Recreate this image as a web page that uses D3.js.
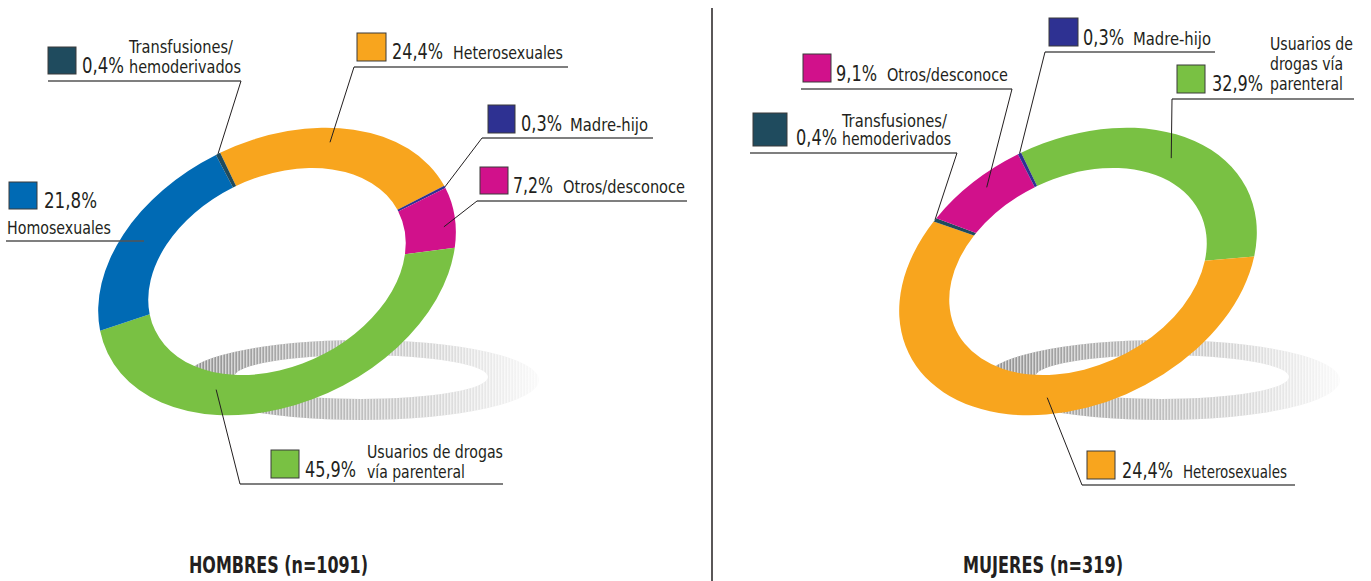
<!DOCTYPE html>
<html>
<head>
<meta charset="utf-8">
<script src="https://cdn.jsdelivr.net/npm/d3@7"></script>
<style>
  body { margin: 0; background: #fff; }
  svg text { font-family: "DejaVu Sans Condensed", "DejaVu Sans", sans-serif; font-stretch: condensed; fill: #231f20; }
</style>
</head>
<body>
<div id="chart"></div>
<script>
// categorías y colores
const categorias = ["Heterosexuales", "Madre-hijo", "Otros/desconoce", "UDVP", "Homosexuales", "Transfusiones"];
const colores = ["#f8a51e", "#2e3192", "#d1118b", "#79c143", "#006ab4", "#1f4b5e"];

// Hombres, en el orden del anillo (empieza arriba, sentido horario)
const hombresCat = ["Heterosexuales", "Madre-hijo", "Otros/desconoce", "UDVP", "Homosexuales", "Transfusiones"];
const hombresVal = [24.4, 0.3, 7.2, 45.9, 21.8, 0.4];
const hombresPct = ["24,4%", "0,3%", "7,2%", "45,9%", "21,8%", "0,4%"];

// Mujeres: el arco naranja ocupa el resto del anillo aunque la etiqueta impresa dice 24,4%
const mujeresCat = ["UDVP", "Heterosexuales", "Transfusiones", "Otros/desconoce", "Madre-hijo"];
const mujeresVal = [32.9, 57.3, 0.4, 9.1, 0.3];
const mujeresPct = ["32,9%", "24,4%", "0,4%", "9,1%", "0,3%"];

const titulos = ["HOMBRES (n=1091)", "MUJERES (n=319)"];

const width = 1371, height = 581;
const color = d3.scaleOrdinal().domain(categorias).range(colores);

const svg = d3.select("#chart").append("svg")
    .attr("width", width)
    .attr("height", height);

const defs = svg.append("defs");
const grad = defs.append("linearGradient").attr("id", "sombra").attr("x1", 0).attr("x2", 1);
grad.append("stop").attr("offset", 0).attr("stop-color", "#8f8f8f");
grad.append("stop").attr("offset", 0.55).attr("stop-color", "#c4c4c4");
grad.append("stop").attr("offset", 1).attr("stop-color", "#fafafa");
const pat = defs.append("pattern").attr("id", "rayas")
    .attr("patternUnits", "userSpaceOnUse").attr("width", 3).attr("height", 10);
pat.append("rect").attr("x", 0).attr("y", 0).attr("width", 1.4).attr("height", 10)
    .attr("fill", "#fff").attr("opacity", 0.6);

// geometría del anillo inclinado
const R = 188, RIN = 0.72 * R, TILT = -25.6, SQ = 0.70;
const arc = d3.arc().innerRadius(RIN).outerRadius(R);
const pie = d3.pie().sort(null).value(d => d.v);

function aPantalla(cx, cy, ang, r) {
    const ux = r * Math.sin(ang), uy = -r * Math.cos(ang) * SQ;
    const t = TILT * Math.PI / 180;
    return [cx + ux * Math.cos(t) - uy * Math.sin(t), cy + ux * Math.sin(t) + uy * Math.cos(t)];
}

function elipse(cx, cy, rx, ry) {
    return `M${cx - rx},${cy}A${rx},${ry} 0 1 0 ${cx + rx},${cy}A${rx},${ry} 0 1 0 ${cx - rx},${cy}Z`;
}

const paneles = [
    {
        cx: 277, cy: 271.5, cat: hombresCat, val: hombresVal, pct: hombresPct, titulo: titulos[0], tx: 189, tw: 179,
        etiquetas: {
            "Transfusiones": { sw: [48, 47, 28, 27], p: [82, 73, 42], lines: [["Transfusiones/", 129, 53, 104], ["hemoderivados", 129, 73, 112]], ul: [48, 241, 81], from: [241, 81], frac: 0.5, rf: 1.0 },
            "Heterosexuales": { sw: [357, 33, 29, 28], p: [392, 59, 51], lines: [["Heterosexuales", 453, 59, 110]], ul: [354, 568, 67], from: [354, 67], frac: 0.43, rf: 0.9 },
            "Madre-hijo": { sw: [488, 105, 27, 28], p: [521, 131, 41], lines: [["Madre-hijo", 570, 131, 78]], ul: [482, 653, 138], from: [482, 138], frac: 0.5, rf: 1.0 },
            "Otros/desconoce": { sw: [480, 167, 28, 27], p: [513, 193, 40], lines: [["Otros/desconoce", 563, 193, 122]], ul: [477, 687, 201], from: [477, 201], frac: 0.62, rf: 0.935 },
            "Homosexuales": { sw: [9, 182, 28, 27], p: [44, 208, 53], lines: [["Homosexuales", 7, 234, 104]], ul: [6, 144, 241], from: null },
            "UDVP": { sw: [271, 450, 28, 28], p: [305, 477, 51], lines: [["Usuarios de drogas", 367, 458, 136], ["vía parenteral", 367, 478, 98]], ul: [240, 503, 484], from: [240, 484], frac: 0.653, rf: 0.83 }
        }
    },
    {
        cx: 1078, cy: 271.5, cat: mujeresCat, val: mujeresVal, pct: mujeresPct, titulo: titulos[1], tx: 963, tw: 160,
        etiquetas: {
            "Otros/desconoce": { sw: [803, 54, 28, 28], p: [836, 81, 41], lines: [["Otros/desconoce", 887, 81, 121]], ul: [801, 1012, 89], from: [1012, 89], frac: 0.557, rf: 0.91 },
            "Transfusiones": { sw: [753, 113, 34, 33], p: [796, 145, 41], lines: [["Transfusiones/", 842, 127, 105], ["hemoderivados", 842, 145, 109]], ul: [750, 957, 153], from: [957, 153], frac: 0.5, rf: 1.0 },
            "Madre-hijo": { sw: [1049, 18, 29, 28], p: [1083, 45, 41], lines: [["Madre-hijo", 1133, 45, 78]], ul: [1045, 1215, 52], from: [1045, 52], frac: 0.5, rf: 1.0 },
            "UDVP": { sw: [1177, 65, 28, 28], p: [1212, 91, 51], lines: [["Usuarios de", 1270, 50, 83], ["drogas vía", 1270, 70, 73], ["parenteral", 1270, 90, 73]], ul: [1172, 1354, 99], from: [1172, 99], frac: 0.476, rf: 0.85 },
            "Heterosexuales": { sw: [1087, 451, 28, 28], p: [1122, 478, 51], lines: [["Heterosexuales", 1183, 478, 104]], ul: [1082, 1295, 485], from: [1082, 485], frac: 0.443, rf: 0.88 }
        }
    }
];

paneles.forEach(pn => {
    const g = svg.append("g");

    // sombra rayada
    const sx = pn.cx + 84;
    const dSombra = elipse(sx, 380, 178, 40) + elipse(sx, 377, 127, 22);
    g.append("path").attr("d", dSombra).attr("fill-rule", "evenodd").attr("fill", "url(#sombra)");
    g.append("path").attr("d", dSombra).attr("fill-rule", "evenodd").attr("fill", "url(#rayas)");

    // anillo
    const datos = pie(pn.cat.map((c, i) => ({ c, v: pn.val[i], p: pn.pct[i] })));
    g.append("g")
        .attr("transform", `translate(${pn.cx},${pn.cy}) rotate(${TILT}) scale(1,${SQ})`)
        .selectAll("path")
        .data(datos)
        .enter().append("path")
        .attr("d", arc)
        .attr("fill", d => color(d.data.c));

    // etiquetas
    datos.forEach(d => {
        const e = pn.etiquetas[d.data.c];
        if (!e) return;
        g.append("rect")
            .attr("x", e.sw[0]).attr("y", e.sw[1]).attr("width", e.sw[2]).attr("height", e.sw[3])
            .attr("fill", color(d.data.c)).attr("stroke", "#3a3a3a").attr("stroke-width", 1);
        g.append("text")
            .attr("x", e.p[0]).attr("y", e.p[1])
            .attr("textLength", e.p[2]).attr("lengthAdjust", "spacingAndGlyphs")
            .style("font-size", "20.5px")
            .text(d.data.p);
        e.lines.forEach(l => {
            g.append("text")
                .attr("x", l[1]).attr("y", l[2])
                .attr("textLength", l[3]).attr("lengthAdjust", "spacingAndGlyphs")
                .style("font-size", "17px")
                .text(l[0]);
        });
        g.append("line")
            .attr("x1", e.ul[0]).attr("x2", e.ul[1]).attr("y1", e.ul[2]).attr("y2", e.ul[2])
            .attr("stroke", "#555").attr("stroke-width", 1.5);
        if (e.from) {
            const ang = d.startAngle + e.frac * (d.endAngle - d.startAngle);
            const [px, py] = aPantalla(pn.cx, pn.cy, ang, e.rf * R);
            g.append("line")
                .attr("x1", e.from[0]).attr("y1", e.from[1]).attr("x2", px).attr("y2", py)
                .attr("stroke", "#231f20").attr("stroke-width", 1);
        }
    });

    g.append("text")
        .attr("x", pn.tx).attr("y", 573)
        .attr("textLength", pn.tw).attr("lengthAdjust", "spacingAndGlyphs")
        .style("font-size", "23px").style("font-weight", "600")
        .text(pn.titulo);
});

// separador
svg.append("line")
    .attr("x1", 712).attr("x2", 712).attr("y1", 8).attr("y2", height)
    .attr("stroke", "#231f20").attr("stroke-width", 1.5);
</script>
</body>
</html>
